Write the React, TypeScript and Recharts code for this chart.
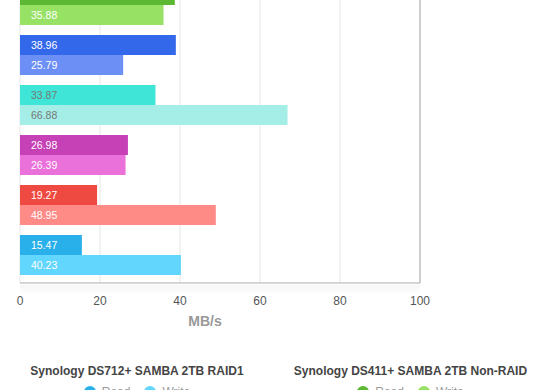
import React from 'react'
import {
    BarChart,
    Bar,
    XAxis,
    YAxis,
    CartesianGrid,
    ReferenceLine,
    LabelList,
    Cell
} from 'recharts'

// groups from top to bottom (chart is cropped, the top one only partly visible)
const groups = ['g1', 'g2', 'g3', 'g4', 'g5', 'g6']
const readValues = [38.7, 38.96, 33.87, 26.98, 19.27, 15.47]
const writeValues = [35.88, 25.79, 66.88, 26.39, 48.95, 40.23]
const xTicks = [0, 20, 40, 60, 80, 100]

const legendNames = ['Synology DS712+ SAMBA 2TB RAID1', 'Synology DS411+ SAMBA 2TB Non-RAID']
const seriesNames = ['Read', 'Write']

const READ_COLORS = ['#5cb832', '#3468ea', '#3fe5d6', '#c640b6', '#ef4a41', '#29b0ea']
const WRITE_COLORS = ['#97e265', '#6b8ff5', '#a5eee8', '#ea70da', '#ff8b87', '#62d6fd']
const LABEL_COLORS = ['#fff', '#fff', '#777', '#fff', '#fff', '#fff']
const LEGEND_COLORS = [['#29b0ea', '#62d6fd'], ['#5cb832', '#97e265']]

const data = groups.map((g, i) => ({ name: g, read: readValues[i], write: writeValues[i] }))

const FONT = '"Liberation Sans", Arial, Helvetica, sans-serif'

function renderLabel(props: any) {
    const { x, y, height, value, index } = props
    return (
        <text
            x={Number(x) + 11}
            y={Number(y) + Number(height) / 2}
            dominantBaseline="central"
            fontSize={10.5}
            fontFamily={FONT}
            fill={LABEL_COLORS[index]}
        >
            {value}
        </text>
    )
}

export default function App() {
    return (
        <div style={{ position: 'fixed', top: 0, left: 0, width: 560, height: 390, overflow: 'hidden', background: '#fff', fontFamily: FONT }}>
            <div style={{ position: 'absolute', top: -20, left: 0 }}>
                <BarChart
                    width={560}
                    height={353}
                    data={data}
                    layout="vertical"
                    margin={{ top: 0, right: 140, bottom: 0, left: 20 }}
                    barGap={0}
                    barCategoryGap={5}
                >
                    <CartesianGrid horizontal={false} stroke="#e6e6e6" />
                    <XAxis
                        type="number"
                        domain={[0, 100]}
                        ticks={xTicks}
                        tickLine={false}
                        axisLine={{ stroke: '#aaa' }}
                        tickMargin={7}
                        height={50}
                        tick={{ fontSize: 12, fill: '#555', fontFamily: FONT }}
                        label={{ value: 'MB/s', position: 'insideBottom', offset: 7, dx: -15, fill: '#999', fontSize: 14, fontWeight: 'bold', fontFamily: FONT }}
                    />
                    <YAxis
                        type="category"
                        dataKey="name"
                        width={0}
                        tick={false}
                        tickLine={false}
                        axisLine={{ stroke: '#aaa' }}
                        padding={{ top: 0, bottom: 3 }}
                    />
                    <ReferenceLine x={100} stroke="#aaa" />
                    <Bar dataKey="read" isAnimationActive={false}>
                        {data.map((d, i) => (
                            <Cell key={`r-${i}`} fill={READ_COLORS[i]} />
                        ))}
                        <LabelList dataKey="read" content={(p: any) => (p.index === 0 ? null : renderLabel(p))} />
                    </Bar>
                    <Bar dataKey="write" isAnimationActive={false}>
                        {data.map((d, i) => (
                            <Cell key={`w-${i}`} fill={WRITE_COLORS[i]} />
                        ))}
                        <LabelList dataKey="write" content={renderLabel} />
                    </Bar>
                </BarChart>
            </div>
            <div style={{ position: 'absolute', top: 285, left: 20, width: 400, height: 10, background: 'linear-gradient(rgba(0,0,0,0.035), rgba(0,0,0,0))' }} />
            {legendNames.map((name, k) => (
                <div key={name} style={{ position: 'absolute', top: 363, left: k === 0 ? 0 : 282, width: k === 0 ? 274 : 257, textAlign: 'center' }}>
                    <div style={{ fontSize: 12, fontWeight: 'bold', color: '#444', lineHeight: '16px' }}>{name}</div>
                    <div style={{ display: 'flex', justifyContent: 'center', gap: 14, marginTop: 6, fontSize: 12, color: '#999' }}>
                        {seriesNames.map((s, j) => (
                            <span key={s} style={{ display: 'flex', alignItems: 'center', gap: 6 }}>
                                <span style={{ width: 12, height: 12, borderRadius: 6, background: LEGEND_COLORS[k][j], display: 'inline-block' }} />
                                {s}
                            </span>
                        ))}
                    </div>
                </div>
            ))}
        </div>
    )
}
